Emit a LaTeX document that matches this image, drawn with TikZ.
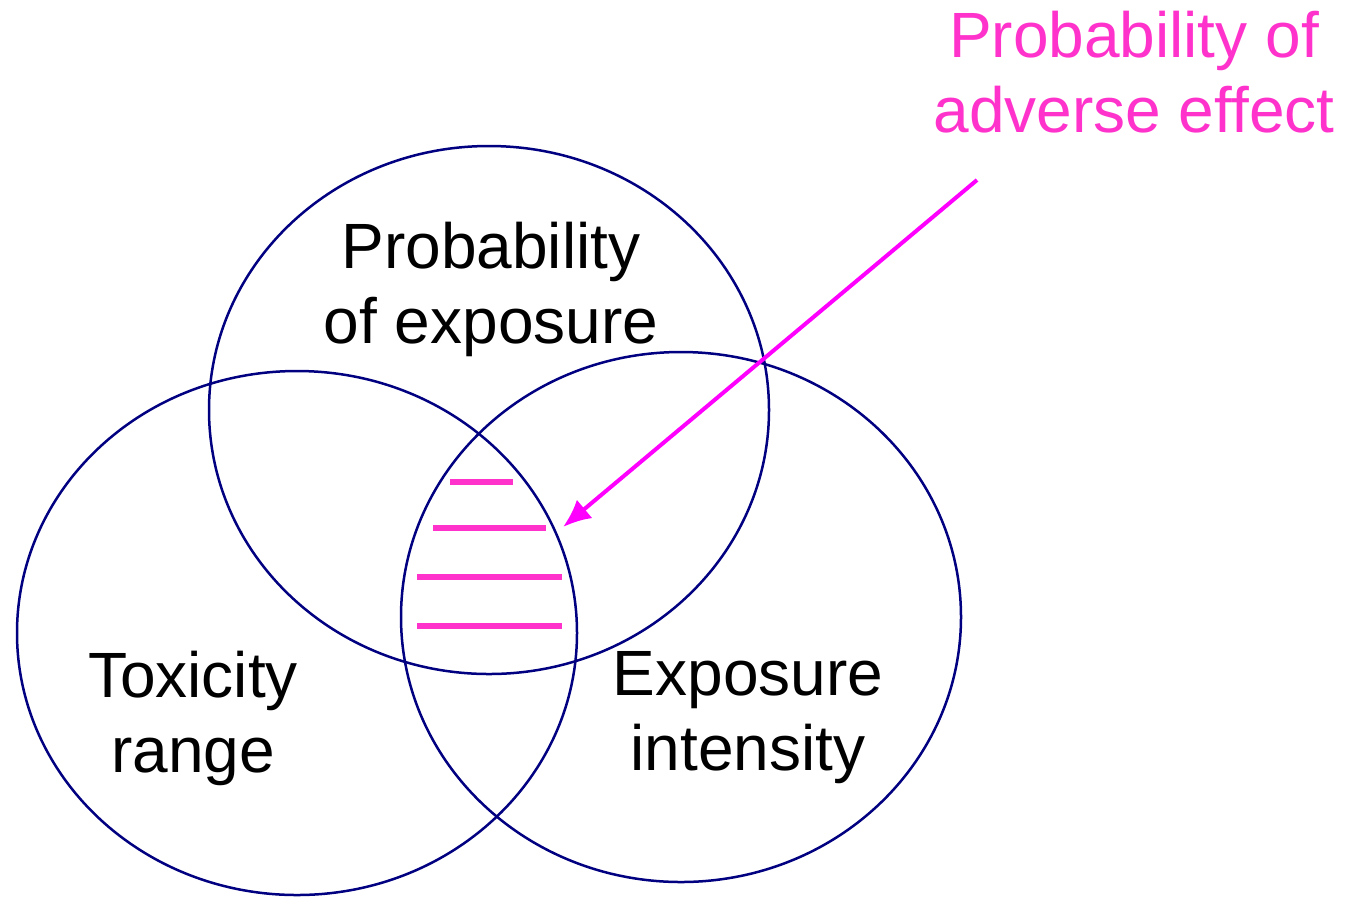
\documentclass[tikz,border=0pt]{standalone}
\usepackage{fontspec}
\setmainfont{Liberation Sans}
\usetikzlibrary{arrows.meta}
\definecolor{ringblue}{HTML}{000080}
\definecolor{barpink}{HTML}{FF33CC}
\definecolor{arrowpink}{HTML}{FF00FF}
\tikzset{
	ring/.style={draw=ringblue, line width=1.25pt},
	label/.style={font=\fontsize{32}{37.5}\selectfont, align=center, inner sep=0pt},
}
\begin{document}
\begin{tikzpicture}[x=0.5pt, y=-0.5pt]
	\useasboundingbox (0,0) rectangle (1354,896);

	%% Kreise
	\draw[ring] (489,410) ellipse [x radius=280, y radius=264];
	\draw[ring] (297,633) ellipse [x radius=280, y radius=262];
	\draw[ring] (681,617) ellipse [x radius=280, y radius=265];

	%% Beschriftung
	\node[label] (exposureprob) at (491,289) {Probability\\of exposure};
	\node[label] (toxicity) at (193,718) {Toxicity\\range};
	\node[label] (intensity) at (748,718) {Exposure\\intensity};
	\node[label, anchor=north, text=barpink] (adverse) at (1134,11) {Probability of\\adverse effect};

	%%%%%%%%%%%%%%%%

	%% Schnittmenge
	\foreach \y/\xa/\xb in {482/450/513, 528/433/546, 577/417/562, 626/417/562}
		\draw[barpink, line width=3pt] (\xa,\y) -- (\xb,\y);

	\coordinate (arrstart) at (977,180);
	\coordinate (arrend) at (563,527);
	\draw[arrowpink, line width=2pt, -{Latex[length=14pt, width=12pt]}] (arrstart) -- (arrend);

\end{tikzpicture}
\end{document}
